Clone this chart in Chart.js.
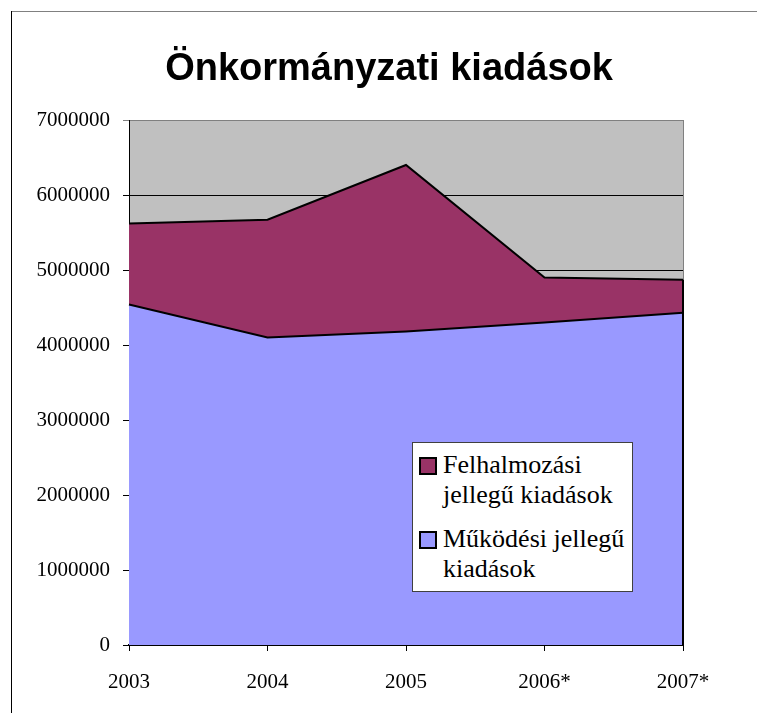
<!DOCTYPE html>
<html>
<head>
<meta charset="utf-8">
<title>Önkormányzati kiadások</title>
<script src="https://cdn.jsdelivr.net/npm/chart.js"></script>
<style>
    body { margin: 0; background: #fff; }
    #wrap { position: relative; width: 757px; height: 713px; }
    #legend {
        position: absolute; left: 412px; top: 442px;
        width: 219px; height: 148px;
        background: #fff; border: 1px solid #404040;
        font-family: "Liberation Serif", "Times New Roman", serif;
        font-size: 26px; line-height: 30px; color: #000;
    }
    #legend .item { position: relative; padding-left: 30px; padding-right: 2px; }
    #legend .item:first-child { margin-top: 7px; }
    #legend .item + .item { margin-top: 14px; }
    #legend .box {
        position: absolute; left: 6px; top: 7px;
        width: 14px; height: 14px; border: 2px solid #000;
    }
</style>
</head>
<body>
<div id="wrap">
    <canvas id="chart" width="757" height="713"></canvas>
    <div id="legend"></div>
</div>

<script>
    const chartTitle = 'Önkormányzati kiadások';
    const years = ['2003', '2004', '2005', '2006*', '2007*'];
    const mukodesiLabel = 'Működési jellegű kiadások';
    const felhalmozasiLabel = 'Felhalmozási jellegű kiadások';
    const mukodesi = [4540000, 4100000, 4180000, 4300000, 4430000];
    const felhalmozasi = [1080000, 1570000, 2220000, 600000, 440000];
    const yMax = 7000000;
    const yStep = 1000000;

    const serif = '"Liberation Serif", "Times New Roman", serif';

    // grey plot area, outer frame and title
    const frame = {
        id: 'frame',
        beforeDraw(chart) {
            const { ctx, chartArea: a } = chart;
            ctx.save();
            ctx.fillStyle = '#C0C0C0';
            ctx.fillRect(a.left, a.top, a.right - a.left, a.bottom - a.top);
            ctx.strokeStyle = '#808080';
            ctx.lineWidth = 1;
            ctx.strokeRect(a.left + 0.5, a.top + 0.5, a.right - a.left, a.bottom - a.top);
            // chart border (left black, top grey)
            ctx.beginPath();
            ctx.strokeStyle = '#808080';
            ctx.moveTo(11, 11.5); ctx.lineTo(chart.width, 11.5);
            ctx.stroke();
            ctx.beginPath();
            ctx.strokeStyle = '#000';
            ctx.moveTo(11.5, 11); ctx.lineTo(11.5, chart.height);
            ctx.stroke();
            ctx.fillStyle = '#000';
            ctx.font = 'bold 38px "Liberation Sans", Arial, sans-serif';
            ctx.textAlign = 'center';
            ctx.textBaseline = 'alphabetic';
            ctx.fillText(chartTitle, 389, 80);
            ctx.restore();
        },
        afterDatasetsDraw(chart) {
            // closing edge of the stacked areas at the last category
            const { ctx, chartArea: a } = chart;
            const top = chart.getDatasetMeta(1).data;
            const last = top[top.length - 1];
            ctx.save();
            ctx.strokeStyle = '#000';
            ctx.lineWidth = 2;
            ctx.beginPath();
            ctx.moveTo(last.x, a.bottom);
            ctx.lineTo(last.x, last.y);
            ctx.stroke();
            ctx.restore();
        }
    };

    const chart = new Chart(document.getElementById('chart'), {
        type: 'line',
        data: {
            labels: years,
            datasets: [
                {
                    label: mukodesiLabel,
                    data: mukodesi,
                    backgroundColor: '#9999FF',
                    borderColor: '#000',
                    borderWidth: 2,
                    fill: 'origin'
                },
                {
                    label: felhalmozasiLabel,
                    data: felhalmozasi,
                    backgroundColor: '#993366',
                    borderColor: '#000',
                    borderWidth: 2,
                    fill: '-1'
                }
            ]
        },
        options: {
            responsive: false,
            devicePixelRatio: 1,
            animation: false,
            layout: { padding: { left: 0, top: 120, right: 74, bottom: 0 } },
            elements: {
                point: { radius: 0, hoverRadius: 0 },
                line: { tension: 0, borderJoinStyle: 'miter' }
            },
            plugins: {
                legend: { display: false },
                title: { display: false },
                tooltip: { enabled: false }
            },
            scales: {
                x: {
                    offset: false,
                    afterFit(scale) { scale.height = 68; },
                    grid: { drawOnChartArea: false, drawTicks: true, tickLength: 6, color: '#000' },
                    border: { color: '#000', width: 2 },
                    ticks: {
                        autoSkip: false, maxRotation: 0, padding: 19,
                        color: '#000', font: { family: serif, size: 21 }
                    }
                },
                y: {
                    stacked: true,
                    min: 0,
                    max: yMax,
                    afterFit(scale) { scale.width = 129; },
                    grid: {
                        tickLength: 6,
                        color: ctx => ctx.tick && ctx.tick.value === yMax ? '#808080' : '#000'
                    },
                    border: { color: '#000', width: 1 },
                    ticks: {
                        stepSize: yStep,
                        padding: 13,
                        color: '#000',
                        font: { family: serif, size: 21 },
                        callback: v => String(v)
                    }
                }
            }
        },
        plugins: [frame]
    });

    // legend with wrapped labels, top series first
    const legend = document.getElementById('legend');
    chart.data.datasets.slice().reverse().forEach(ds => {
        const item = document.createElement('div');
        item.className = 'item';
        const box = document.createElement('span');
        box.className = 'box';
        box.style.background = ds.backgroundColor;
        item.appendChild(box);
        item.appendChild(document.createTextNode(ds.label));
        legend.appendChild(item);
    });
</script>
</body>
</html>
